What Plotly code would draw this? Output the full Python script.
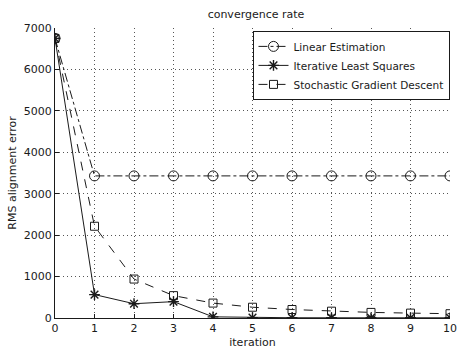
import plotly.graph_objects as go

iterations = list(range(11))
linear_estimation = [6750, 3430, 3430, 3430, 3430, 3430, 3430, 3430, 3430, 3430, 3430]
iterative_least_squares = [6750, 565, 345, 395, 28, 8, 6, 5, 5, 5, 5]
stochastic_gd = [6750, 2215, 940, 540, 360, 260, 205, 165, 135, 118, 104]

x_ticks = list(range(11))
y_ticks = [0, 1000, 2000, 3000, 4000, 5000, 6000, 7000]

ink = "#1a1a1a"
font = dict(family="DejaVu Sans", size=11, color=ink)

fig = go.Figure()
fig.add_trace(go.Scatter(
    x=iterations, y=linear_estimation, name="Linear Estimation",
    mode="lines+markers",
    line=dict(color=ink, width=1, dash="dashdot"),
    marker=dict(symbol="circle-open", size=10, color=ink, line=dict(width=1)),
))
fig.add_trace(go.Scatter(
    x=iterations, y=iterative_least_squares, name="Iterative Least Squares",
    mode="lines+markers",
    line=dict(color=ink, width=1),
    marker=dict(symbol="asterisk-open", size=9, color=ink, line=dict(width=1.4)),
))
fig.add_trace(go.Scatter(
    x=iterations, y=stochastic_gd, name="Stochastic Gradient Descent",
    mode="lines+markers",
    line=dict(color=ink, width=1, dash="dash"),
    marker=dict(symbol="square-open", size=8, color=ink, line=dict(width=1)),
))

axis_common = dict(
    showgrid=True, gridcolor="#555555", griddash="1px,3px", gridwidth=1,
    showline=True, linecolor=ink, linewidth=1,
    ticks="inside", ticklen=4, tickcolor=ink,
    zeroline=False, tickfont=font,
)

fig.update_layout(
    width=464, height=354,
    margin=dict(l=55, r=7, t=28, b=28),
    paper_bgcolor="white", plot_bgcolor="white",
    font=font,
    title=dict(text="convergence rate", x=(55 + 457) / 2 / 464, xanchor="center",
               y=1 - 14 / 354, yanchor="middle", font=dict(family="DejaVu Sans", size=11, color=ink)),
    xaxis=dict(range=[0, 10], tickvals=x_ticks, title=dict(text="iteration", standoff=4,
               font=dict(family="DejaVu Sans", size=11)), **axis_common),
    yaxis=dict(range=[0, 7000], tickvals=y_ticks, title=dict(text="RMS alignment error", standoff=4,
               font=dict(family="DejaVu Sans", size=11)), **axis_common),
    legend=dict(x=0.5, y=0.99, xanchor="left", yanchor="top",
                bordercolor=ink, borderwidth=1, bgcolor="white",
                font=dict(family="DejaVu Sans", size=10.5, color=ink),
                tracegroupgap=0, itemwidth=30),
    showlegend=True,
)

fig.write_html("out.html")
